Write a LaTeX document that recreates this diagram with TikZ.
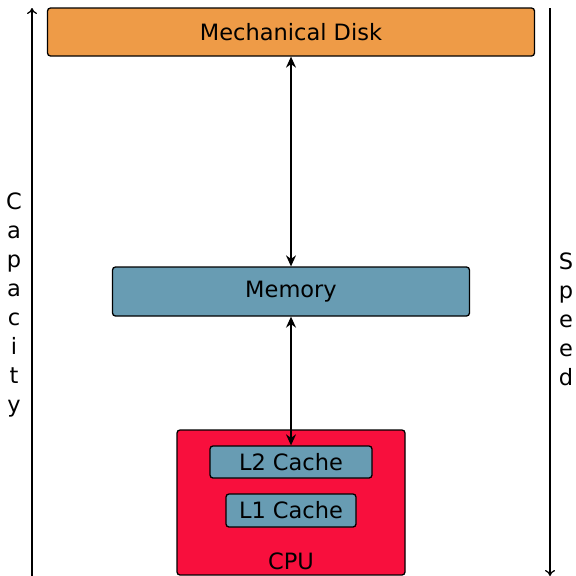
\documentclass[tikz,border=0pt]{standalone}
\usepackage{fontspec}
\setmainfont{DejaVu Sans}
\usetikzlibrary{arrows.meta}
\definecolor{diskorange}{RGB}{238,155,71}
\definecolor{cacheblue}{RGB}{104,156,179}
\definecolor{cpured}{RGB}{248,15,61}
\tikzset{
  unit/.style={draw, line width=1.3pt, rounded corners=3pt, inner sep=0pt},
  axis/.style={line width=1.3pt, -{To[length=6pt,width=10pt]}},
  link/.style={line width=1.3pt, {Stealth[length=11pt,width=10pt]}-{Stealth[length=11pt,width=10pt]}},
}
\begin{document}
\begin{tikzpicture}[x=1pt,y=-1pt,font=\fontsize{22.5}{29}\selectfont]
  \useasboundingbox (0,0) rectangle (576,576);
  % storage levels
  \node[unit, fill=diskorange, minimum width=487pt, minimum height=48pt] (disk) at (291,32) {Mechanical Disk};
  \node[unit, fill=cacheblue, minimum width=357pt, minimum height=49pt] (memory) at (291,291.5) {Memory};
  \node[unit, fill=cpured, minimum width=228pt, minimum height=145pt] (cpu) at (291,502.5) {};
  \node[unit, fill=cacheblue, minimum width=162pt, minimum height=32pt] (ltwo) at (291,462) {L2 Cache};
  \node[unit, fill=cacheblue, minimum width=130pt, minimum height=33pt] (lone) at (291,510.5) {L1 Cache};
  \node (cpulabel) at (291,561) {CPU};
  % side axes
  \coordinate (capfoot) at (32,577);
  \coordinate (caphead) at (32,8);
  \coordinate (spdtop) at (550,8);
  \coordinate (spdfoot) at (550,576);
  \node[align=center, inner sep=0pt] (capacity) at (14,305) {C\\a\\p\\a\\c\\i\\t\\y};
  \node[align=center, inner sep=0pt] (speed) at (566,319) {S\\p\\e\\e\\d};
  \begin{scope}
    \draw[axis] (capfoot) -- (caphead);
    \draw[axis] (spdtop) -- (spdfoot);
    \draw[link] (disk) -- (memory);
    \draw[link] (memory) -- (ltwo);
  \end{scope}
\end{tikzpicture}
\end{document}
